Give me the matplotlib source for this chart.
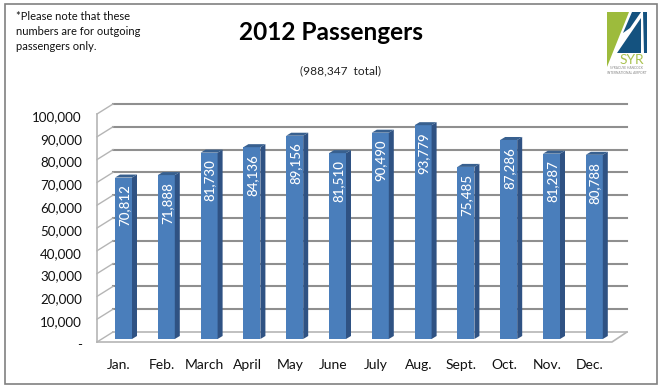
import matplotlib
matplotlib.use("Agg")
import matplotlib.pyplot as plt
from matplotlib.patches import Polygon, Rectangle
from matplotlib.transforms import ScaledTranslation

months = ["Jan.", "Feb.", "March", "April", "May", "June", "July", "Aug.", "Sept.", "Oct.", "Nov.", "Dec."]
passengers = [70812, 71888, 81730, 84136, 89156, 81510, 90490, 93779, 75485, 87286, 81287, 80788]
y_ticks = [0, 10000, 20000, 30000, 40000, 50000, 60000, 70000, 80000, 90000, 100000]
y_labels = ["-", "10,000", "20,000", "30,000", "40,000", "50,000", "60,000", "70,000", "80,000", "90,000", "100,000"]

W, H = 661, 387
plt.rcParams['font.family'] = ['Lato', 'DejaVu Sans']

fig = plt.figure(figsize=(W / 100, H / 100), dpi=100)

# overlay in pixel coords for border, notes and logo
bg = fig.add_axes([0, 0, 1, 1])
bg.set_xlim(0, W)
bg.set_ylim(H, 0)
bg.axis("off")
bg.add_patch(Rectangle((4.5, 3.5), 652.5, 380.5, fill=False, ec="#808080", lw=1.2))
bg.text(16, 17, "*Please note that these", fontsize=8, va="center", color="#111111")
bg.text(16, 31.5, "numbers are for outgoing", fontsize=8, va="center", color="#111111")
bg.text(16, 46, "passengers only.", fontsize=8, va="center", color="#111111")
bg.text(331, 32, "2012 Passengers", fontsize=17.6, fontweight="bold", ha="center", va="center", color="black")
bg.text(341, 71, "(988,347  total)", fontsize=8.6, ha="center", va="center", color="#222222")

# logo
bg.add_patch(Polygon([(607, 12), (629, 12), (607, 67)], fc="#9dbb3c", ec="none"))
bg.add_patch(Polygon([(632, 12), (641, 12), (630, 28), (623, 33)], fc="#14527f", ec="none"))
bg.add_patch(Polygon([(641, 18), (641, 53), (617, 53)], fc="#14527f", ec="none"))
bg.add_patch(Polygon([(643, 12), (647, 12), (647, 53), (644, 53)], fc="#14527f", ec="none"))
bg.text(632, 60.5, "SYR", fontsize=10, color="#a9c24f", ha="center", va="center")
bg.text(627, 68, "SYRACUSE HANCOCK", fontsize=2.3, color="#888888", ha="center", va="center")
bg.text(627, 72.5, "INTERNATIONAL AIRPORT", fontsize=2.3, color="#888888", ha="center", va="center")

# chart axes, y=0 at the foot of the bars
left, right, top, bottom = 97, 612, 111, 339
ax = fig.add_axes([left / W, 1 - bottom / H, (right - left) / W, (bottom - top) / H])
ax.patch.set_alpha(0)
step = 42.8
x0 = -(123.5 - left) / step
x1 = (right - 123.5) / step
ax.set_xlim(x0, x1)
ax.set_ylim(0, 100000)
px = 1 / step
py = 100000 / (bottom - top)

for s in ax.spines.values():
    s.set_visible(False)

# back wall, left wall and floor
grid_col = "#8f8f8f"
for v in y_ticks:
    back_y = v + 7 * py
    front_y = v - 3 * py
    col = "#b5b5b5" if v == 0 else grid_col
    lw = 1.2 if v == 0 else 1.5
    ax.plot([x0 + 16 * px, x1 + 15 * px], [back_y, back_y], color=col, lw=lw, clip_on=False, zorder=1)
    ax.plot([x0, x0 + 16 * px], [front_y, back_y], color="#b5b5b5", lw=1, clip_on=False, zorder=1)
ax.plot([x0, x0], [-3 * py, 100000 - 3 * py], color="#b5b5b5", lw=1.2, clip_on=False, zorder=1)
ax.plot([x0, x1, x1 + 15 * px], [-3 * py, -3 * py, 7 * py], color="#b5b5b5", lw=1.2, clip_on=False, zorder=1)

# bars
bar_w = 17 * px
xs = list(range(len(months)))
ax.bar(xs, passengers, width=bar_w, color="#4a7ebb", zorder=3, clip_on=False)
for x, v in zip(xs, passengers):
    r = x + bar_w / 2
    l = x - bar_w / 2
    ax.add_patch(Polygon([(r, 0), (r + 5 * px, 3 * py), (r + 5 * px, v + 3 * py), (r, v)],
                         fc="#2f5283", ec="none", zorder=3, clip_on=False))
    ax.add_patch(Polygon([(l, v), (l + 5 * px, v + 3 * py), (r + 5 * px, v + 3 * py), (r, v)],
                         fc="#38608f", ec="none", zorder=3, clip_on=False))
    ax.annotate(f"{v:,}", (x, v), xytext=(0.5, -5), textcoords="offset points", rotation=90,
                ha="center", va="top", color="white", fontsize=9.6, fontweight="medium", zorder=4)

ax.set_xticks(xs)
ax.set_xticklabels(months, fontsize=10, color="#111111")
ax.set_yticks(y_ticks)
ax.set_yticklabels(y_labels, fontsize=9.6, color="#111111")
ax.tick_params(length=0, pad=0)
for lab in ax.get_xticklabels():
    lab.set_transform(lab.get_transform() + ScaledTranslation(-4.5 / 100, -20 / 100, fig.dpi_scale_trans))
for lab in ax.get_yticklabels():
    lab.set_transform(lab.get_transform() + ScaledTranslation(-15 / 100, -5 / 100, fig.dpi_scale_trans))

fig.savefig("out.png", dpi=100)
